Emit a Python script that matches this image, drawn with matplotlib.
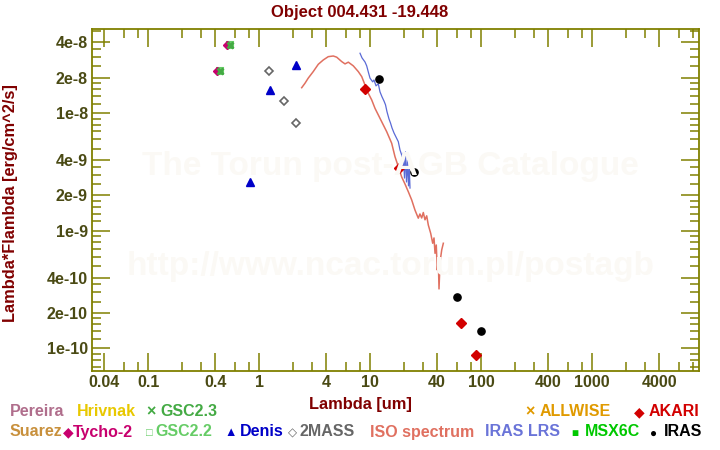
import matplotlib
matplotlib.use("Agg")
import matplotlib.pyplot as plt
from matplotlib.ticker import FixedLocator, FixedFormatter, NullFormatter

plt.rcParams['font.family'] = ['Liberation Sans', 'DejaVu Sans']
plt.rcParams['font.weight'] = 'bold'

# ---------------- data ----------------
tycho_wl = [0.42, 0.51]
tycho_f = [2.27e-8, 3.79e-8]
gsc23_wl = [0.44, 0.55]
gsc23_f = [2.27e-8, 3.79e-8]
gsc22_wl = [0.44, 0.55]
gsc22_f = [2.27e-8, 3.79e-8]
denis_wl = [0.82, 1.25, 2.15]
denis_f = [2.6e-9, 1.58e-8, 2.58e-8]
twomass_wl = [1.23, 1.67, 2.16]
twomass_f = [2.27e-8, 1.27e-8, 8.2e-9]
akari_wl = [9.0, 18.0, 65.0, 90.0]
akari_f = [1.6e-8, 3.4e-9, 1.63e-10, 8.8e-11]
iras_wl = [12.0, 25.0, 60.0, 100.0]
iras_f = [1.94e-8, 3.15e-9, 2.72e-10, 1.40e-10]

iso_wl = [2.41, 2.58, 2.76, 3.06, 3.40, 3.77, 4.18, 4.64, 4.98, 5.53, 5.92, 6.34,
          7.03, 7.80, 8.37, 8.96, 9.59, 10.29, 11.03, 11.81, 13.1, 14.05, 15.59,
          16.69, 17.88, 19.18, 20.54, 22.0, 23.6, 25.27, 27.07, 28.0, 29.04, 30.03,
          31.1, 32.22, 33.31, 35.0, 36.5, 37.5, 38.3, 39.3, 40.1, 41.0, 41.6, 42.5,
          44.0, 45.5]
iso_f = [1.65e-8, 1.80e-8, 1.99e-8, 2.26e-8, 2.61e-8, 2.84e-8, 3.03e-8, 3.07e-8,
         3.00e-8, 2.75e-8, 2.63e-8, 2.72e-8, 2.53e-8, 2.26e-8, 2.05e-8, 1.74e-8,
         1.48e-8, 1.30e-8, 1.10e-8, 9.67e-9, 7.95e-9, 6.97e-9, 5.55e-9, 4.27e-9,
         3.51e-9, 2.87e-9, 2.50e-9, 2.15e-9, 1.83e-9, 1.50e-9, 1.28e-9, 1.39e-9,
         1.285e-9, 1.43e-9, 1.24e-9, 1.34e-9, 1.12e-9, 9.52e-10, 7.83e-10, 8.69e-10,
         6.43e-10, 7.57e-10, 4.64e-10, 5.64e-10, 3.20e-10, 5.43e-10, 6.87e-10, 7.83e-10]

lrs_wl = [8.08, 8.42, 8.96, 9.28, 9.59, 9.94, 10.51, 10.8, 11.26, 11.81, 12.23, 12.75,
          13.29, 13.71, 14.14, 14.74, 15.2, 15.69, 16.35, 17.04, 17.88, 18.52, 19.18,
          19.5, 19.83, 20.33, 20.76, 21.19, 21.64, 22.09, 22.46, 22.79]
lrs_f = [3.24e-8, 2.96e-8, 2.73e-8, 2.53e-8, 2.25e-8, 1.99e-8, 1.85e-8, 1.92e-8,
         1.71e-8, 1.78e-8, 1.52e-8, 1.38e-8, 1.27e-8, 1.18e-8, 1.03e-8, 8.94e-9,
         8.27e-9, 7.50e-9, 6.80e-9, 6.28e-9, 5.73e-9, 4.87e-9, 4.42e-9, 3.29e-9,
         4.59e-9, 2.81e-9, 4.68e-9, 2.60e-9, 4.00e-9, 2.41e-9, 3.42e-9, 2.31e-9]

x_major = [0.04, 0.1, 0.4, 1, 4, 10, 40, 100, 400, 1000, 4000]
x_major_labels = ['0.04', '0.1', '0.4', '1', '4', '10', '40', '100', '400', '1000', '4000']
x_minor = [0.06, 0.08, 0.2, 0.3, 0.6, 0.8, 2, 3, 6, 8, 20, 30, 60, 80, 200, 300,
           600, 800, 2000, 3000, 6000, 8000]
y_major = [1e-10, 2e-10, 4e-10, 1e-9, 2e-9, 4e-9, 1e-8, 2e-8, 4e-8]
y_major_labels = ['1e-10', '2e-10', '4e-10', '1e-9', '2e-9', '4e-9', '1e-8', '2e-8', '4e-8']
y_minor_mult = [1.2, 1.4, 1.6, 1.8, 2.5, 3, 3.5, 5, 6, 7, 8, 9]
y_minor = [m * d for d in (1e-11, 1e-10, 1e-9, 1e-8) for m in y_minor_mult]

# ---------------- figure ----------------
W, H = 720, 450
fig = plt.figure(figsize=(7.2, 4.5), dpi=100)
ax = fig.add_axes([92 / W, 1 - 371 / H, (699 - 92) / W, (371 - 29) / H])
ax.set_xscale('log')
ax.set_yscale('log')
ax.set_xlim(0.0311, 9150)
ax.set_ylim(6.41e-11, 5.21e-8)

olive = '#808000'
ticklab = '#4a4a14'
darkred = '#800000'

for s in ax.spines.values():
    s.set_color(olive)
    s.set_linewidth(1.3)

ax.xaxis.set_major_locator(FixedLocator(x_major))
ax.xaxis.set_major_formatter(FixedFormatter(x_major_labels))
ax.xaxis.set_minor_locator(FixedLocator(x_minor))
ax.xaxis.set_minor_formatter(NullFormatter())
ax.yaxis.set_major_locator(FixedLocator(y_major))
ax.yaxis.set_major_formatter(FixedFormatter(y_major_labels))
ax.yaxis.set_minor_locator(FixedLocator(y_minor))
ax.yaxis.set_minor_formatter(NullFormatter())
ax.tick_params(which='both', direction='in', top=True, right=True, color=olive,
               width=1.1, labelcolor=ticklab, labelsize=11.5, pad=3)
ax.tick_params(which='major', length=13)
ax.tick_params(which='minor', length=6.5)
for lab in ax.get_xticklabels() + ax.get_yticklabels():
    lab.set_fontweight('bold')

# watermark
fig.text(390 / W, 1 - 175 / H, 'The Torun post-AGB Catalogue', ha='center', va='baseline',
         fontsize=24, fontweight='bold', color='#fbf9f5', zorder=0)
fig.text(391 / W, 1 - 275 / H, 'http://www.ncac.torun.pl/postagb', ha='center', va='baseline',
         fontsize=24, fontweight='bold', color='#fbf9f5', zorder=0)
ax.set_facecolor('none')

# spectra
ax.plot(iso_wl, iso_f, color='#e07060', lw=1.1, zorder=3)
ax.plot(lrs_wl, lrs_f, color='#5a6ad6', lw=0.9, zorder=3)

# photometry
ax.plot(gsc22_wl, gsc22_f, ls='none', marker='s', ms=5, mfc='none', mec='#66cc66', mew=1.5, zorder=4)
ax.plot(tycho_wl, tycho_f, ls='none', marker='D', ms=3.8, color='#c8006e', zorder=5)
ax.plot(gsc23_wl, gsc23_f, ls='none', marker='x', ms=4.5, mew=2, color='#44aa44', zorder=6)
ax.plot(denis_wl, denis_f, ls='none', marker='^', ms=6, color='#0000c8', zorder=5)
ax.plot(twomass_wl, twomass_f, ls='none', marker='D', ms=4.3, mfc='white', mec='#666666', mew=1.2, zorder=5)
ax.plot(akari_wl, akari_f, ls='none', marker='D', ms=4.7, color='#d20000', zorder=5)
ax.plot(iras_wl, iras_f, ls='none', marker='o', ms=5.2, color='black', zorder=5)

# titles
fig.text(359.5 / W, 1 - 16.7 / H, 'Object 004.431 -19.448', ha='center', va='baseline',
         fontsize=12, fontweight='bold', color=darkred)
fig.text(360 / W, 1 - 409 / H, 'Lambda [um]', ha='center', va='baseline',
         fontsize=11.8, fontweight='bold', color=darkred)
fig.text(15 / W, 1 - 203 / H, 'Lambda*Flambda [erg/cm^2/s]', ha='center', va='baseline',
         rotation=90, rotation_mode='anchor', fontsize=11.8, fontweight='bold', color=darkred)

# legend
def lt(x, y, s, c, fs=11.5):
    fig.text(x / W, 1 - y / H, s, ha='left', va='baseline', fontsize=fs,
             fontweight='bold', color=c)

r1, r2 = 416.5, 436.5
lt(10, r1, 'Pereira', '#b06e8c')
lt(77, r1, 'Hrivnak', '#e8c800')
lt(146, r1, '×', '#44aa44')
lt(160, r1, 'GSC2.3', '#44aa44')
lt(525, r1, '×', '#e09a00')
lt(540, r1, 'ALLWISE', '#e09a00')
lt(634, r1 - 0.5, '◆', '#d20000', 10)
lt(649, r1, 'AKARI', '#d20000')

lt(10, r2, 'Suarez', '#c8903c')
lt(63, r2 - 0.5, '◆', '#c8006e', 10)
lt(73, r2, 'Tycho-2', '#c8006e')
lt(146, r2, '□', '#66cc66', 8)
lt(155, r2, 'GSC2.2', '#66cc66')
lt(224, r2, '▲', '#0000c8', 9)
lt(240, r2, 'Denis', '#0000c8')
lt(288, r2, '◇', '#666666', 8.5)
lt(300, r2, '2MASS', '#666666')
lt(370, r2, 'ISO spectrum', '#e07060')
lt(485, r2, 'IRAS LRS', '#6a74d8')
lt(571, r2, '■', '#00c800', 8.5)
lt(585, r2, 'MSX6C', '#00c800')
lt(650, r2, '●', '#000000', 8.5)
lt(664, r2, 'IRAS', '#000000')

fig.savefig('out.png', dpi=100)
